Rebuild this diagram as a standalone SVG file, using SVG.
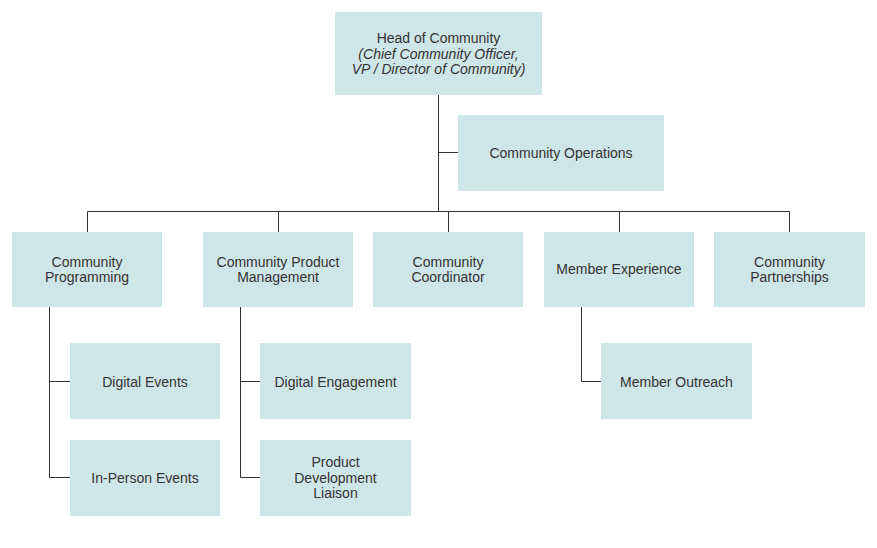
<svg xmlns="http://www.w3.org/2000/svg" width="877" height="548" viewBox="0 0 877 548">
<style>
.box{fill:#cfe6e8;}
.t{font-family:"Liberation Sans",Arial,sans-serif;font-size:14px;fill:#333;text-anchor:middle;}
.i{font-style:italic;}
.ln{fill:none;stroke:#333;stroke-width:1;}
</style>
<rect width="877" height="548" fill="#fff"/>
<g id="connectors">
<path class="ln" d="M438.5 95V211.5M438.5 152.5H458M87.5 232V211.5H789.5V232M278.5 211.5V232M448.5 211.5V232M619.5 211.5V232"/>
<path class="ln" d="M49.5 307V477.5H70M49.5 381.5H70"/>
<path class="ln" d="M240.5 307V477.5H260M240.5 381.5H260"/>
<path class="ln" d="M581.5 307V381.5H601"/>
</g>
<g id="head"><rect class="box" x="335" y="12" width="207" height="83"/>
<text class="t" x="438.5" y="43">Head of Community</text>
<text class="t i" x="438.5" y="58.5">(Chief Community Officer,</text>
<text class="t i" x="438.5" y="74">VP / Director of Community)</text></g>
<g id="ops"><rect class="box" x="458" y="115" width="206" height="76"/>
<text class="t" x="561" y="158">Community Operations</text></g>
<g id="programming"><rect class="box" x="12" y="232" width="150" height="75"/>
<text class="t" x="87" y="267">Community</text><text class="t" x="87" y="282">Programming</text></g>
<g id="cpm"><rect class="box" x="203" y="232" width="150" height="75"/>
<text class="t" x="278" y="267">Community Product</text><text class="t" x="278" y="282">Management</text></g>
<g id="coordinator"><rect class="box" x="373" y="232" width="150" height="75"/>
<text class="t" x="448" y="267">Community</text><text class="t" x="448" y="282">Coordinator</text></g>
<g id="memberexp"><rect class="box" x="544" y="232" width="150" height="75"/>
<text class="t" x="619" y="274">Member Experience</text></g>
<g id="partnerships"><rect class="box" x="714" y="232" width="151" height="75"/>
<text class="t" x="789.5" y="267">Community</text><text class="t" x="789.5" y="282">Partnerships</text></g>
<g id="digitalevents"><rect class="box" x="70" y="343" width="150" height="76"/>
<text class="t" x="145" y="386.5">Digital Events</text></g>
<g id="inperson"><rect class="box" x="70" y="440" width="150" height="76"/>
<text class="t" x="145" y="483">In-Person Events</text></g>
<g id="digitalengagement"><rect class="box" x="260" y="343" width="151" height="76"/>
<text class="t" x="335.5" y="386.5">Digital Engagement</text></g>
<g id="pdl"><rect class="box" x="260" y="440" width="151" height="76"/>
<text class="t" x="335.5" y="467">Product</text><text class="t" x="335.5" y="482.5">Development</text><text class="t" x="335.5" y="498">Liaison</text></g>
<g id="outreach"><rect class="box" x="601" y="343" width="151" height="76"/>
<text class="t" x="676.5" y="386.5">Member Outreach</text></g>
</svg>
